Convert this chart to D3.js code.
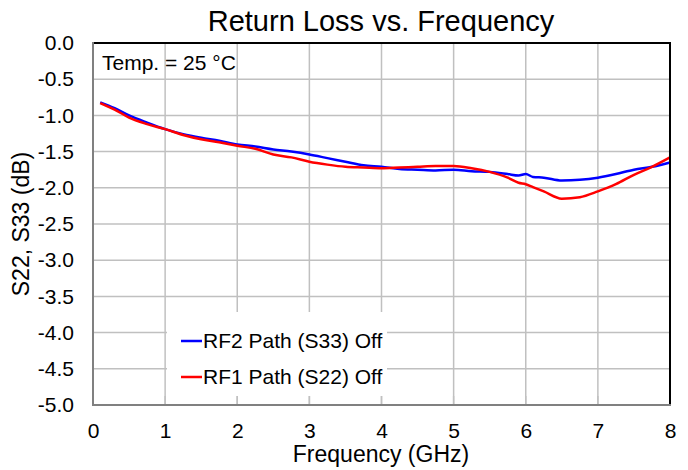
<!DOCTYPE html>
<html>
<head>
<meta charset="utf-8">
<script src="https://cdn.jsdelivr.net/npm/d3@7"></script>
<style>
  body { margin: 0; background: #fff; }
  text { font-family: "Liberation Sans", Arial, sans-serif; }
</style>
</head>
<body>
<svg id="chart" width="688" height="470"></svg>
<script>
// data
var freqs = [0.1, 0.3, 0.5, 0.75, 1.0, 1.25, 1.5, 1.75, 2.0, 2.25, 2.5, 2.75, 3.0, 3.25, 3.5, 3.75,
  4.0, 4.25, 4.5, 4.75, 5.0, 5.25, 5.5, 5.75, 5.9, 6.0, 6.1, 6.25, 6.5, 6.75, 7.0, 7.25, 7.5, 7.75, 8.0];
var s33_off = [-0.82, -0.90, -1.00, -1.10, -1.19, -1.26, -1.31, -1.35, -1.40, -1.43, -1.47, -1.50, -1.54, -1.59, -1.64, -1.69,
  -1.71, -1.74, -1.75, -1.76, -1.75, -1.77, -1.78, -1.81, -1.83, -1.81, -1.85, -1.86, -1.90, -1.89, -1.86, -1.81, -1.75, -1.71, -1.65];
var s22_off = [-0.83, -0.92, -1.03, -1.12, -1.19, -1.27, -1.33, -1.37, -1.42, -1.46, -1.54, -1.58, -1.64, -1.68, -1.71, -1.72,
  -1.73, -1.72, -1.71, -1.70, -1.70, -1.73, -1.78, -1.86, -1.93, -1.95, -1.99, -2.05, -2.15, -2.13, -2.05, -1.95, -1.82, -1.71, -1.58];
var xTicks = [0, 1, 2, 3, 4, 5, 6, 7, 8];
var yTicks = [0, -0.5, -1, -1.5, -2, -2.5, -3, -3.5, -4, -4.5, -5];
var seriesNames = ["RF2 Path (S33) Off", "RF1 Path (S22) Off"];
var seriesColors = ["#0000ff", "#ff0000"];

var svg = d3.select("#chart");
var pLeft = 93, pRight = 670, pTop = 43, pBottom = 405;

var x = d3.scaleLinear().domain([0, 8]).range([pLeft, pRight]);
var y = d3.scaleLinear().domain([-5, 0]).range([pBottom, pTop]);

// grid
svg.append("g").selectAll("line").data(yTicks.slice(1, -1)).enter().append("line")
  .attr("x1", pLeft).attr("x2", pRight)
  .attr("y1", function(d){ return y(d); }).attr("y2", function(d){ return y(d); })
  .attr("stroke", "#c0c0c0").attr("stroke-width", 1.5);
svg.append("g").selectAll("line").data(xTicks.slice(1, -1)).enter().append("line")
  .attr("y1", pTop).attr("y2", pBottom)
  .attr("x1", function(d){ return x(d); }).attr("x2", function(d){ return x(d); })
  .attr("stroke", "#c0c0c0").attr("stroke-width", 1.5);

// tick labels (plain hyphen for negatives, like the original)
var yFmt = function(d){ return d.toFixed(1); };
var xAxis = svg.append("g").attr("transform", "translate(0," + pBottom + ")")
  .call(d3.axisBottom(x).tickValues(xTicks).tickSize(0).tickPadding(18).tickFormat(function(d){ return "" + d; }));
var yAxis = svg.append("g").attr("transform", "translate(" + pLeft + ",0)")
  .call(d3.axisLeft(y).tickValues(yTicks).tickSize(0).tickPadding(19).tickFormat(yFmt));
[xAxis, yAxis].forEach(function(a){
  a.select(".domain").remove();
  a.selectAll("text").attr("font-size", 21).attr("fill", "#000")
    .attr("font-family", "'Liberation Sans', Arial, sans-serif");
});

// curves
var line = d3.line().curve(d3.curveMonotoneX)
  .x(function(d){ return x(d[0]); }).y(function(d){ return y(d[1]); });
[s33_off, s22_off].forEach(function(vals, i){
  svg.append("path")
    .datum(freqs.map(function(f, j){ return [f, vals[j]]; }))
    .attr("d", line).attr("fill", "none")
    .attr("stroke", seriesColors[i]).attr("stroke-width", 2.5)
    .attr("stroke-linejoin", "round");
});

// legend box
var lg = svg.append("g");
lg.append("rect").attr("x", 167).attr("y", 312).attr("width", 220).attr("height", 84).attr("fill", "#fff");
// inward ticks at the bottom inside legend area
svg.append("g").selectAll("line").data(xTicks.slice(1, -1)).enter().append("line")
  .attr("y1", pBottom - 9).attr("y2", pBottom)
  .attr("x1", function(d){ return x(d); }).attr("x2", function(d){ return x(d); })
  .attr("stroke", "#c0c0c0").attr("stroke-width", 1.5);
seriesNames.forEach(function(name, i){
  var ly = 341 + i * 36;
  lg.append("line").attr("x1", 181).attr("x2", 202).attr("y1", ly).attr("y2", ly)
    .attr("stroke", seriesColors[i]).attr("stroke-width", 2.5);
  lg.append("text").attr("x", 203).attr("y", ly + 7).attr("font-size", 21).text(name);
});

// frame: left/bottom gray, top/right black
svg.append("line").attr("x1", pLeft).attr("x2", pRight).attr("y1", pTop).attr("y2", pTop)
  .attr("stroke", "#000").attr("stroke-width", 2);
svg.append("line").attr("x1", pRight).attr("x2", pRight).attr("y1", pTop - 1).attr("y2", pBottom + 1)
  .attr("stroke", "#000").attr("stroke-width", 2);
svg.append("line").attr("x1", pLeft).attr("x2", pRight + 1).attr("y1", pBottom).attr("y2", pBottom)
  .attr("stroke", "#808080").attr("stroke-width", 2);
svg.append("line").attr("x1", pLeft).attr("x2", pLeft).attr("y1", pTop - 1).attr("y2", pBottom + 1)
  .attr("stroke", "#808080").attr("stroke-width", 2);

// texts
svg.append("text").attr("x", 102).attr("y", 70).attr("font-size", 21).text("Temp. = 25 °C");
svg.append("text").attr("x", 381).attr("y", 31).attr("text-anchor", "middle").attr("font-size", 29)
  .text("Return Loss vs. Frequency");
svg.append("text").attr("x", 381).attr("y", 462).attr("text-anchor", "middle").attr("font-size", 23)
  .text("Frequency (GHz)");
svg.append("text").attr("transform", "translate(29," + ((pTop + pBottom) / 2) + ") rotate(-90)")
  .attr("text-anchor", "middle").attr("font-size", 23).text("S22, S33 (dB)");
</script>
</body>
</html>
